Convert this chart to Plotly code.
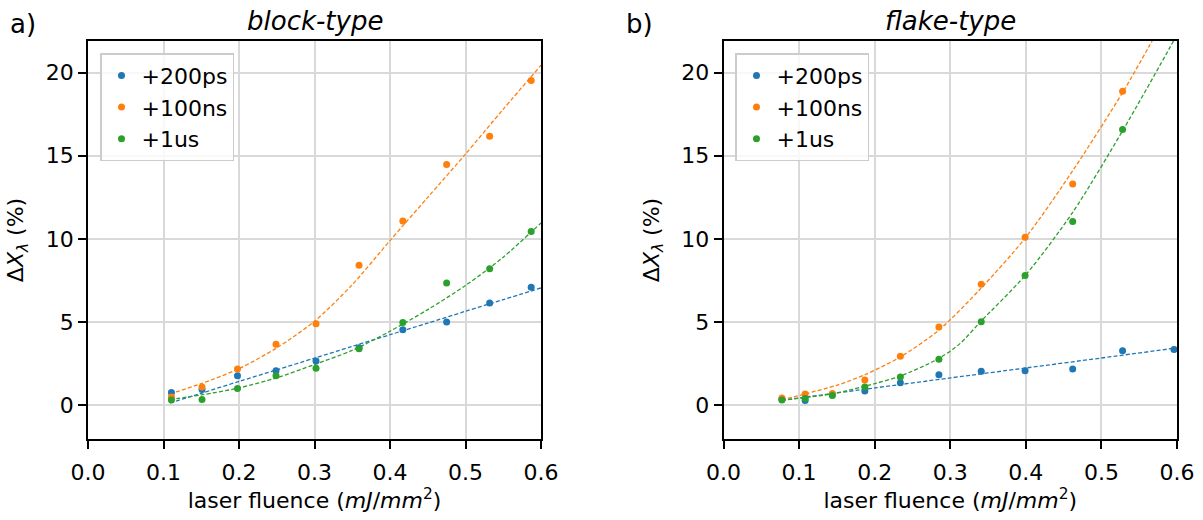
import plotly.graph_objects as go
from plotly.subplots import make_subplots

# ---------------- data ----------------
series_names = ["+200ps", "+100ns", "+1us"]
colors = ["#1f77b4", "#ff7f0e", "#2ca02c"]

# block-type (panel a)
fluence_block = [0.1105, 0.151, 0.198, 0.249, 0.302, 0.359, 0.417, 0.475, 0.532, 0.587]
block_200ps = [0.77, 0.95, 1.78, 2.08, 2.66, 3.46, 4.54, 5.0, 6.15, 7.1]
block_100ns = [0.5, 1.1, 2.18, 3.66, 4.9, 8.42, 11.08, 14.48, 16.18, 19.52]
block_1us = [0.32, 0.35, 1.0, 1.78, 2.22, 3.39, 4.98, 7.35, 8.2, 10.45]

# fitted curves, panel a
fit_x_block = [0.1086, 0.15, 0.2, 0.25, 0.3, 0.35, 0.4, 0.45, 0.5, 0.55, 0.6]
fit_block_200ps = [0.14, 0.72, 1.43, 2.13, 2.83, 3.54, 4.24, 4.94, 5.65, 6.35, 7.05]
fit_block_100ns = [0.68, 1.3, 2.2, 3.45, 5.05, 7.25, 9.9, 12.5, 15.1, 17.8, 20.44]
fit_block_1us = [0.34, 0.62, 1.04, 1.65, 2.45, 3.3, 4.45, 5.75, 7.2, 8.9, 10.96]

# flake-type (panel b)
fluence_flake = [0.0773, 0.108, 0.144, 0.187, 0.234, 0.285, 0.341, 0.399, 0.462, 0.528, 0.596]
flake_200ps = [0.36, 0.28, 0.65, 0.86, 1.35, 1.83, 2.04, 2.07, 2.18, 3.27, 3.35]
flake_100ns = [0.44, 0.67, 0.7, 1.52, 2.95, 4.7, 7.28, 10.1, 13.3, 18.88]
flake_1us = [0.32, 0.4, 0.58, 1.1, 1.7, 2.77, 5.02, 7.8, 11.05, 16.58]

# fitted curves, panel b
fit_x_flake_200ps = [0.077, 0.2, 0.3, 0.4, 0.5, 0.6]
fit_flake_200ps = [0.3, 1.04, 1.64, 2.24, 2.84, 3.45]
fit_x_flake_100ns = [0.077, 0.108, 0.15, 0.1874, 0.233, 0.2845, 0.34, 0.4, 0.462, 0.528, 0.5627, 0.6]
fit_flake_100ns = [0.32, 0.68, 1.2, 1.84, 2.88, 4.5, 7.0, 10.1, 14.1, 18.8, 21.55, 24.6]
fit_x_flake_1us = [0.077, 0.1455, 0.2, 0.233, 0.2845, 0.3132, 0.34, 0.4, 0.462, 0.528, 0.5905, 0.6]
fit_flake_1us = [0.3, 0.7, 1.3, 1.74, 2.8, 3.72, 5.02, 7.85, 11.6, 16.5, 21.5, 22.3]

x_ticks = [0.0, 0.1, 0.2, 0.3, 0.4, 0.5, 0.6]
y_ticks = [0, 5, 10, 15, 20]
x_range = [0.0, 0.6]
y_range = [-2.03, 21.9]

FONT = "DejaVu Sans"
FS = 22

fig = make_subplots(rows=1, cols=2, horizontal_spacing=0.168)

dash = "4px,2.2px"

# panel a
for col, fy in zip(colors, [fit_block_200ps, fit_block_100ns, fit_block_1us]):
    fig.add_trace(go.Scatter(x=fit_x_block, y=fy, mode="lines",
                             line=dict(color=col, width=1.3, dash=dash, shape="spline", smoothing=0.8),
                             showlegend=False, hoverinfo="skip"), row=1, col=1)
for name, col, ys in zip(series_names, colors, [block_200ps, block_100ns, block_1us]):
    fig.add_trace(go.Scatter(x=fluence_block, y=ys, mode="markers", name=name,
                             marker=dict(color=col, size=7), legend="legend"), row=1, col=1)

# panel b
for col, fx, fy in zip(colors,
                       [fit_x_flake_200ps, fit_x_flake_100ns, fit_x_flake_1us],
                       [fit_flake_200ps, fit_flake_100ns, fit_flake_1us]):
    fig.add_trace(go.Scatter(x=fx, y=fy, mode="lines",
                             line=dict(color=col, width=1.3, dash=dash, shape="spline", smoothing=0.8),
                             showlegend=False, hoverinfo="skip"), row=1, col=2)
for name, col, ys in zip(series_names, colors, [flake_200ps, flake_100ns, flake_1us]):
    fig.add_trace(go.Scatter(x=fluence_flake[:len(ys)], y=ys, mode="markers", name=name,
                             marker=dict(color=col, size=7), legend="legend2"), row=1, col=2)

axis_common = dict(showline=True, linecolor="black", linewidth=1.5, mirror=True,
                   showgrid=True, gridcolor="#d9d9d9", gridwidth=1.6, zeroline=False,
                   ticks="outside", ticklen=8, tickwidth=1.5, tickcolor="black",
                   automargin=False,
                   tickfont=dict(family=FONT, size=FS, color="black"))

xtitle = "laser fluence (<i>mJ</i>/<i>mm</i><sup>2</sup>)"
ytitle = "Δ<i>X</i><sub><i>λ</i></sub> (%)"

for ax in ["xaxis", "xaxis2"]:
    fig.update_layout({ax: dict(axis_common, range=x_range, tickvals=x_ticks,
                                ticktext=[f"{v:.1f}" for v in x_ticks],
                                ticklabelstandoff=5,
                                title=dict(text=xtitle, font=dict(family=FONT, size=FS, color="black"),
                                           standoff=8))})
for ax in ["yaxis", "yaxis2"]:
    fig.update_layout({ax: dict(axis_common, range=y_range, tickvals=y_ticks,
                                ticktext=[str(v) for v in y_ticks],
                                title=dict(text=ytitle, font=dict(family=FONT, size=FS, color="black"),
                                           standoff=16))})

W, H = 1203, 520
PLOT_L, PLOT_R, PLOT_T, PLOT_B = 88, 1177, 40.5, 439.5   # page pixels
L, T, R, B = PLOT_L, PLOT_T, W - PLOT_R, H - PLOT_B
pw = PLOT_R - PLOT_L
ph = PLOT_B - PLOT_T

fig.update_layout(xaxis=dict(domain=[0, (541 - PLOT_L) / pw]),
                  xaxis2=dict(domain=[(723.5 - PLOT_L) / pw, 1]))

legend_style = dict(font=dict(family=FONT, size=FS, color="black"),
                    bgcolor="rgba(255,255,255,0.8)", bordercolor="#cccccc", borderwidth=1.5,
                    xanchor="left", yanchor="top", itemwidth=30, tracegroupgap=0)
fig.update_layout(
    legend=dict(legend_style, x=(100 - PLOT_L) / pw, y=1 - (52.7 - PLOT_T) / ph),
    legend2=dict(legend_style, x=(735 - PLOT_L) / pw, y=1 - (52.7 - PLOT_T) / ph),
)


def py(page_y):
    return 1 + (PLOT_T - page_y) / ph


def px(page_x):
    return (page_x - PLOT_L) / pw


fig.add_annotation(text="<i>block-type</i>", xref="paper", yref="paper",
                   x=px((88 + 541) / 2), y=py(20), showarrow=False, xanchor="center", yanchor="middle",
                   font=dict(family=FONT, size=26, color="black"))
fig.add_annotation(text="<i>flake-type</i>", xref="paper", yref="paper",
                   x=px((723.5 + 1177) / 2), y=py(20), showarrow=False, xanchor="center", yanchor="middle",
                   font=dict(family=FONT, size=26, color="black"))
fig.add_annotation(text="a)", xref="paper", yref="paper", x=px(8), y=py(23),
                   showarrow=False, xanchor="left", yanchor="middle",
                   font=dict(family=FONT, size=26, color="black"))
fig.add_annotation(text="b)", xref="paper", yref="paper", x=px(624), y=py(23),
                   showarrow=False, xanchor="left", yanchor="middle",
                   font=dict(family=FONT, size=26, color="black"))

fig.update_layout(width=W, height=H, margin=dict(l=L, r=R, t=T, b=B, pad=0),
                  plot_bgcolor="white", paper_bgcolor="white",
                  font=dict(family=FONT, size=FS, color="black"))

# remove the browser's default 8px body margin so the figure sits at the page origin
fig.write_html("out.html", config={"displayModeBar": False},
               post_script="document.body.style.margin='0';")
